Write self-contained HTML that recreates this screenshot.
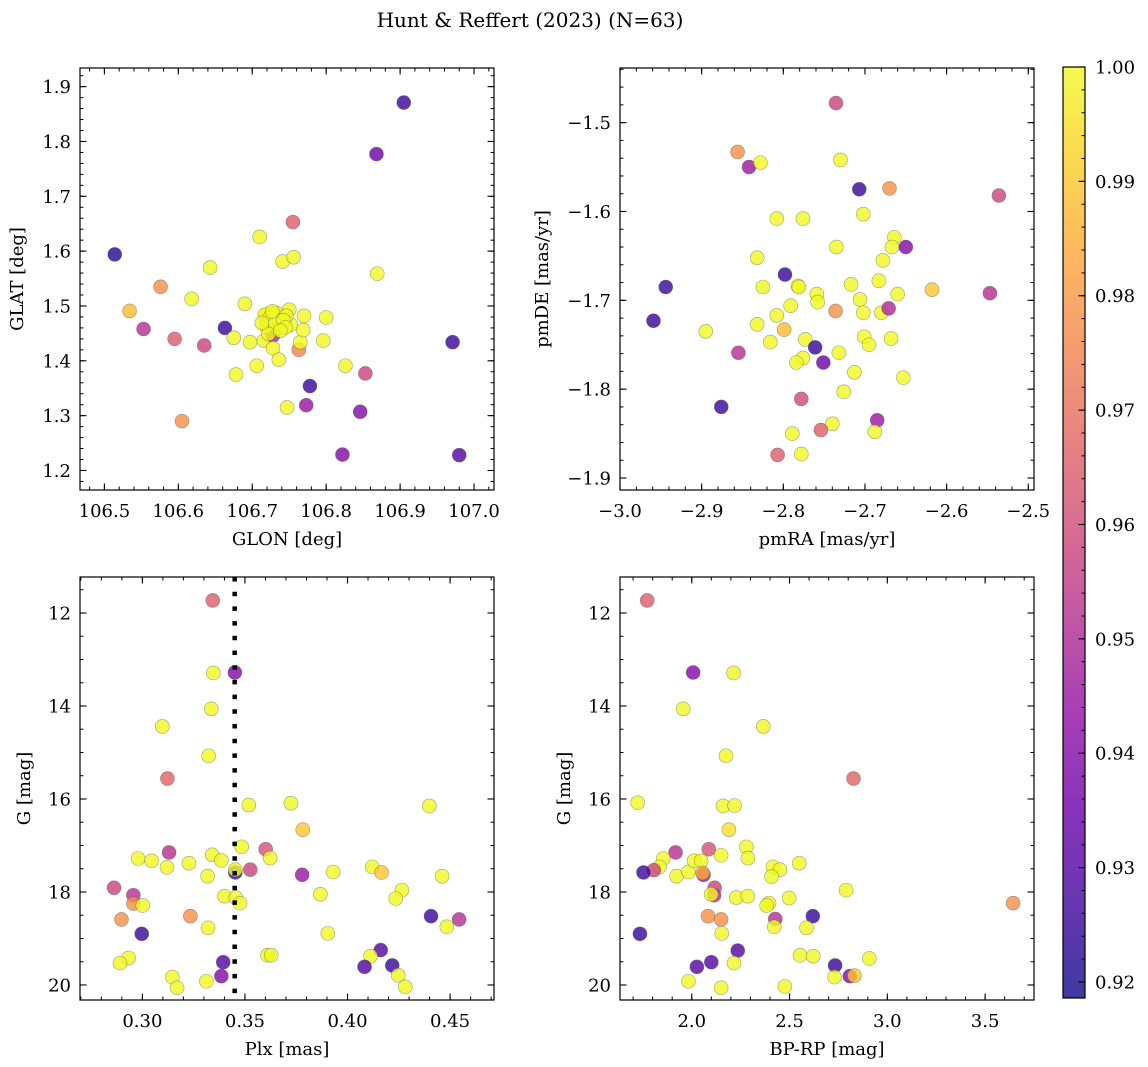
<!DOCTYPE html>
<html><head><meta charset="utf-8"><title>Hunt & Reffert (2023)</title>
<style>
html,body{margin:0;padding:0;background:#fff;}
svg{display:block;font-family:"DejaVu Serif","Liberation Serif",serif;}
</style></head>
<body>
<svg id="fig" width="1148" height="1067" viewBox="0 0 1148 1067" xmlns="http://www.w3.org/2000/svg">
<text x="530" y="27" font-size="20" text-anchor="middle">Hunt &amp; Reffert (2023) (N=63)</text>
</svg>
<script>
// ---- Panel 1: GLON vs GLAT ----
const p1Glon=[106.514,106.534,106.553,106.576,106.595,106.605,106.618,106.635,106.643,106.663,106.675,106.678,106.690,106.697,106.706,106.710,106.716,106.719,106.721,106.723,106.726,106.728,106.728,106.735,106.736,106.736,106.741,106.747,106.750,106.752,106.755,106.756,106.763,106.765,106.769,106.770,106.773,106.778,106.796,106.800,106.826,106.822,106.846,106.853,106.868,106.869,106.905,106.971,106.980,106.717,106.733,106.737,106.746,106.719,106.724,106.731,106.742,106.727,106.722,106.745,106.713,106.738];
const p1Glat=[1.594,1.491,1.458,1.535,1.440,1.290,1.513,1.428,1.570,1.460,1.442,1.375,1.504,1.434,1.391,1.626,1.437,1.484,1.472,1.460,1.487,1.446,1.423,1.481,1.460,1.402,1.581,1.315,1.493,1.466,1.653,1.589,1.420,1.434,1.456,1.482,1.319,1.354,1.437,1.479,1.391,1.229,1.307,1.377,1.777,1.559,1.871,1.434,1.228,1.484,1.487,1.472,1.482,1.463,1.479,1.468,1.474,1.490,1.449,1.461,1.469,1.455];
const p1Prob=[0.922,0.988,0.952,0.978,0.965,0.978,1,0.958,1,0.925,1,1,1,1,1,1,1,1,1,1,1,0.95,1,1,1,1,1,1,1,1,0.965,1,0.975,1,1,1,0.945,0.925,1,1,1,0.94,0.94,0.958,0.935,1,0.925,0.925,0.93,1,1,1,1,1,1,1,1,1,1,1,1,1];
// ---- Panel 2: pmRA vs pmDE ----
const p2Pmra=[-2.7355,-2.856,-2.842,-2.828,-2.730,-2.707,-2.670,-2.536,-2.808,-2.776,-2.702,-2.735,-2.664,-2.667,-2.650,-2.678,-2.832,-2.798,-2.944,-2.825,-2.782,-2.781,-2.717,-2.683,-2.759,-2.758,-2.706,-2.660,-2.618,-2.547,-2.791,-2.736,-2.702,-2.680,-2.671,-2.959,-2.808,-2.832,-2.799,-2.895,-2.816,-2.773,-2.701,-2.695,-2.668,-2.761,-2.855,-2.776,-2.784,-2.751,-2.732,-2.713,-2.653,-2.726,-2.778,-2.876,-2.685,-2.740,-2.754,-2.688,-2.789,-2.778,-2.807];
const p2Pmde=[-1.478,-1.533,-1.550,-1.545,-1.542,-1.575,-1.574,-1.582,-1.608,-1.608,-1.603,-1.640,-1.629,-1.640,-1.640,-1.655,-1.652,-1.671,-1.685,-1.685,-1.684,-1.685,-1.682,-1.678,-1.693,-1.702,-1.699,-1.693,-1.688,-1.692,-1.706,-1.712,-1.714,-1.714,-1.709,-1.723,-1.717,-1.727,-1.733,-1.735,-1.747,-1.744,-1.741,-1.750,-1.743,-1.753,-1.759,-1.765,-1.770,-1.770,-1.759,-1.781,-1.787,-1.803,-1.811,-1.820,-1.835,-1.839,-1.846,-1.848,-1.850,-1.873,-1.874];
const p2Prob=[0.958,0.978,0.945,1,1,0.925,0.978,0.958,1,1,1,1,1,1,0.94,1,1,0.925,0.925,1,1,1,1,1,1,1,1,1,0.99,0.952,1,0.978,1,1,0.95,0.925,1,1,0.988,1,1,1,1,1,1,0.925,0.952,1,1,0.935,1,1,1,1,0.96,0.925,0.945,1,0.965,1,1,1,0.965];
// ---- Panel 3: Plx vs G ----
const p3Plx=[0.3343,0.3346,0.3451,0.3336,0.3097,0.3323,0.3122,0.3519,0.3724,0.4399,0.3782,0.3484,0.3601,0.3623,0.3130,0.2979,0.3045,0.3120,0.3227,0.3341,0.3385,0.3318,0.3453,0.3453,0.3526,0.3779,0.3930,0.4120,0.4166,0.4461,0.2862,0.2956,0.2956,0.3002,0.3400,0.3455,0.3476,0.3868,0.4265,0.4235,0.2898,0.3234,0.4407,0.4544,0.4484,0.2997,0.3320,0.3904,0.2933,0.2891,0.3610,0.3628,0.4162,0.4112,0.4083,0.4218,0.4247,0.4282,0.3394,0.3385,0.3146,0.3169,0.3312];
const p3G=[11.73,13.29,13.28,14.06,14.44,15.07,15.56,16.13,16.09,16.15,16.66,17.03,17.08,17.27,17.15,17.28,17.33,17.47,17.38,17.20,17.32,17.66,17.58,17.52,17.52,17.63,17.57,17.46,17.58,17.66,17.91,18.07,18.25,18.29,18.09,18.12,18.24,18.05,17.96,18.14,18.59,18.52,18.52,18.59,18.75,18.90,18.77,18.89,19.42,19.53,19.36,19.36,19.25,19.38,19.61,19.58,19.79,20.04,19.51,19.81,19.83,20.06,19.92];
const p3Prob=[0.965,1,0.94,1,1,1,0.967,1,1,1,0.99,1,0.962,1,0.952,1,1,1,1,1,1,1,0.925,1,0.958,0.945,1,1,0.99,1,0.958,0.952,0.978,1,1,1,1,1,1,1,0.978,0.978,0.925,0.952,1,0.925,1,1,1,1,1,1,0.93,1,0.93,0.925,1,1,0.93,0.94,1,1,1];
const p3Line=[0.345];
// ---- Panel 4: BP-RP vs G ----
const p4Bprp=[1.772,2.007,2.214,1.956,2.366,2.175,2.827,1.723,2.160,2.219,2.190,2.279,2.287,2.087,2.150,1.917,1.854,1.835,1.806,1.753,1.922,1.983,2.012,2.048,2.060,2.056,2.549,2.415,2.451,2.408,2.117,2.114,2.099,2.228,2.286,2.789,2.498,2.395,2.383,3.643,2.083,2.150,2.427,2.422,2.619,2.587,1.735,2.153,2.235,2.216,2.100,2.026,1.983,2.150,2.476,2.554,2.621,2.733,2.730,2.808,2.832,2.908];
const p4G=[11.73,13.28,13.29,14.06,14.44,15.07,15.56,16.08,16.15,16.14,16.66,17.03,17.27,17.08,17.21,17.15,17.28,17.46,17.53,17.58,17.66,17.57,17.33,17.33,17.63,17.59,17.38,17.46,17.52,17.67,17.91,18.07,18.05,18.12,18.09,17.96,18.13,18.24,18.29,18.24,18.52,18.59,18.58,18.75,18.52,18.77,18.90,18.89,19.26,19.53,19.51,19.61,19.92,20.06,20.03,19.36,19.38,19.58,19.83,19.81,19.80,19.43];
const p4Prob=[0.965,0.94,1,1,1,1,0.967,1,1,1,0.995,1,1,0.962,1,0.952,1,1,0.958,0.925,1,1,1,1,0.945,0.985,1,1,1,1,0.958,0.952,1,1,1,1,1,1,1,0.978,0.978,0.978,0.952,1,0.925,1,0.925,1,0.93,1,0.93,0.93,1,1,1,1,1,0.925,1,0.94,0.99,1];
// ---- Colorbar ----
const cbTicks=[0.92,0.93,0.94,0.95,0.96,0.97,0.98,0.99,1.00];
const cbMin=0.9186, cbMax=1.0;

const NS="http://www.w3.org/2000/svg";
const svg=document.getElementById('fig');
function mk(tag,attrs,parent){const e=document.createElementNS(NS,tag);for(const k in attrs)e.setAttribute(k,attrs[k]);(parent||svg).appendChild(e);return e;}
const stops=[[13,8,135],[65,4,157],[106,0,168],[143,13,164],[177,42,144],[204,71,120],[225,100,98],[242,132,75],[252,166,54],[252,206,37],[240,249,33]];
function plasma(t){t=Math.max(0,Math.min(1,t));const f=t*10;const i=Math.min(9,Math.floor(f));const u=f-i;const a=stops[i],b=stops[i+1];return 'rgb('+a.map((v,k)=>Math.round(v+(b[k]-v)*u)).join(',')+')';}
function pcol(p){return plasma((p-cbMin)/(cbMax-cbMin));}
function fmt(v,d){const s=Math.abs(v).toFixed(d);return (v<-1e-9?'\u2212':'')+s;}

function panel(c){
  const g=mk('g',{});
  
  
  const sx=v=>c.x0+(v-c.xl)/(c.xr-c.xl)*c.w;
  const sy=v=>c.y0+(v-c.yt)/(c.yb-c.yt)*c.h;
  const clip=mk('clipPath',{id:'clip-'+c.name},g);mk('rect',{x:c.x0,y:c.y0,width:c.w,height:c.h},clip);
  const pts=mk('g',{'clip-path':'url(#clip-'+c.name+')'},g);
  
  
  for(let i=0;i<c.xs.length;i++){
    const ci=mk('circle',{cx:sx(c.xs[i]),cy:sy(c.ys[i]),r:7,fill:pcol(c.ps[i]),'fill-opacity':0.8,stroke:'#555','stroke-opacity':0.55,'stroke-width':0.6},pts);
    
    
  }
  if(c.vline){c.vline.forEach(v=>{const l=mk('line',{x1:sx(v),x2:sx(v),y1:c.y0,y2:c.y0+c.h,stroke:'#000','stroke-width':4.5,'stroke-dasharray':'4.5 10.2'},pts);});}
  const lo=Math.min(c.xl,c.xr),hi=Math.max(c.xl,c.xr);
  for(let v=Math.ceil(lo/c.xmin-1e-6)*c.xmin;v<=hi+1e-9;v+=c.xmin){const X=sx(v);mk('line',{x1:X,x2:X,y1:c.y0+c.h,y2:c.y0+c.h-3.5,stroke:'#000','stroke-width':1},g);mk('line',{x1:X,x2:X,y1:c.y0,y2:c.y0+3.5,stroke:'#000','stroke-width':1},g);}
  const ylo=Math.min(c.yt,c.yb),yhi=Math.max(c.yt,c.yb);
  for(let v=Math.ceil(ylo/c.ymin-1e-6)*c.ymin;v<=yhi+1e-9;v+=c.ymin){const Y=sy(v);mk('line',{x1:c.x0,x2:c.x0+3.5,y1:Y,y2:Y,stroke:'#000','stroke-width':1},g);mk('line',{x1:c.x0+c.w,x2:c.x0+c.w-3.5,y1:Y,y2:Y,stroke:'#000','stroke-width':1},g);}
  c.xticks.forEach(v=>{const X=sx(v);mk('line',{x1:X,x2:X,y1:c.y0+c.h,y2:c.y0+c.h-6.5,stroke:'#000','stroke-width':1.1},g);mk('line',{x1:X,x2:X,y1:c.y0,y2:c.y0+6.5,stroke:'#000','stroke-width':1.1},g);
    const t=mk('text',{x:X,y:c.y0+c.h+27,'font-size':18,'text-anchor':'middle'},g);t.textContent=fmt(v,c.xd);});
  c.yticks.forEach(v=>{const Y=sy(v);mk('line',{x1:c.x0,x2:c.x0+6.5,y1:Y,y2:Y,stroke:'#000','stroke-width':1.1},g);mk('line',{x1:c.x0+c.w,x2:c.x0+c.w-6.5,y1:Y,y2:Y,stroke:'#000','stroke-width':1.1},g);
    const t=mk('text',{x:c.x0-9,y:Y+6.5,'font-size':18,'text-anchor':'end'},g);t.textContent=fmt(v,c.yd);});
  const fr=mk('rect',{x:c.x0,y:c.y0,width:c.w,height:c.h,fill:'none',stroke:'#000','stroke-width':1.2},g);
  
  const xt=mk('text',{x:c.x0+c.w/2,y:c.y0+c.h+55,'font-size':18,'text-anchor':'middle'},g);xt.textContent=c.xlab;
  
  const yt=mk('text',{x:0,y:0,'font-size':18,'text-anchor':'middle',transform:'translate('+c.ylx+','+(c.y0+c.h/2)+') rotate(-90)'},g);yt.textContent=c.ylab;
  
}
function rng(a,b,s){const r=[];for(let v=a;v<=b+1e-9;v+=s)r.push(Math.round(v*1e4)/1e4);return r;}

panel({name:'glon-glat-panel',x0:80,y0:68,w:414,h:422,xl:106.467,xr:107.027,yt:1.934,yb:1.1644,xs:p1Glon,ys:p1Glat,ps:p1Prob,xticks:rng(106.5,107.0,0.1),xmin:0.02,xd:1,yticks:rng(1.2,1.9,0.1),ymin:0.02,yd:1,xlab:'GLON [deg]',ylab:'GLAT [deg]',ylx:23});
panel({name:'pm-panel',x0:620,y0:68,w:414,h:422,xl:-3.0,xr:-2.493,yt:-1.4385,yb:-1.9135,xs:p2Pmra,ys:p2Pmde,ps:p2Prob,xticks:rng(-3.0,-2.5,0.1),xmin:0.02,xd:1,yticks:rng(-1.9,-1.5,0.1),ymin:0.02,yd:1,xlab:'pmRA [mas/yr]',ylab:'pmDE [mas/yr]',ylx:548});
panel({name:'plx-g-panel',x0:80,y0:577,w:414,h:423,xl:0.2696,xr:0.4714,yt:11.226,yb:20.323,xs:p3Plx,ys:p3G,ps:p3Prob,xticks:rng(0.30,0.45,0.05),xmin:0.01,xd:2,yticks:rng(12,20,2),ymin:0.5,yd:0,xlab:'Plx [mas]',ylab:'G [mag]',ylx:30,vline:p3Line});
panel({name:'cmd-panel',x0:620,y0:577,w:414,h:423,xl:1.633,xr:3.75,yt:11.226,yb:20.323,xs:p4Bprp,ys:p4G,ps:p4Prob,xticks:rng(2.0,3.5,0.5),xmin:0.1,xd:1,yticks:rng(12,20,2),ymin:0.5,yd:0,xlab:'BP-RP [mag]',ylab:'G [mag]',ylx:570});

(function(){
  const x0=1063,y0=67,w=22,h=931;
  const cb=mk('g',{});
  
  
  const defs=mk('defs',{},cb);
  const lg=mk('linearGradient',{id:'plasmaGrad',x1:0,y1:1,x2:0,y2:0},defs);
  for(let i=0;i<=20;i++){mk('stop',{offset:(i/20),'stop-color':plasma(i/20)},lg);}
  mk('rect',{x:x0,y:y0,width:w,height:h,fill:'url(#plasmaGrad)','fill-opacity':0.8},cb);
  const sy=v=>y0+(cbMax-v)/(cbMax-cbMin)*h;
  for(let v=0.92;v<=1.0001;v+=0.002){const Y=sy(v);mk('line',{x1:x0+w,x2:x0+w-3.5,y1:Y,y2:Y,stroke:'#000','stroke-width':1},cb);}
  cbTicks.forEach(v=>{const Y=sy(v);mk('line',{x1:x0+w,x2:x0+w-6.5,y1:Y,y2:Y,stroke:'#000','stroke-width':1.1},cb);
    const t=mk('text',{x:x0+w+10,y:Y+6.5,'font-size':18},cb);t.textContent=v.toFixed(2);
    });
  mk('rect',{x:x0,y:y0,width:w,height:h,fill:'none',stroke:'#000','stroke-width':1.2},cb);
})();
</script>
</body></html>
